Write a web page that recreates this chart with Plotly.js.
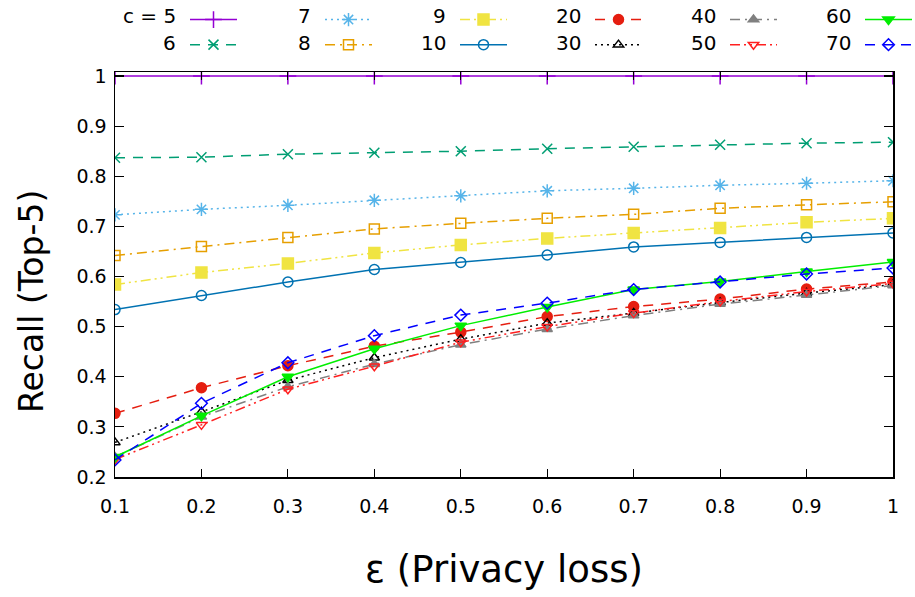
<!DOCTYPE html>
<html>
<head>
<meta charset="utf-8">
<script src="https://cdn.plot.ly/plotly-3.0.1.min.js"></script>
<style>html,body{margin:0;padding:0;background:#fff}#chart{width:915px;height:597px}</style>
</head>
<body>
<div id="chart"></div>
<script>
// ---- data ----
const eps = [0.1, 0.2, 0.3, 0.4, 0.5, 0.6, 0.7, 0.8, 0.9, 1.0];
const cLabels = ['c = 5', '6', '7', '8', '9', '10', '20', '30', '40', '50', '60', '70'];
const c5  = [1.0, 1.0, 1.0, 1.0, 1.0, 1.0, 1.0, 1.0, 1.0, 1.0];
const c6  = [0.837, 0.838, 0.844, 0.847, 0.850, 0.855, 0.859, 0.863, 0.866, 0.868];
const c7  = [0.723, 0.734, 0.742, 0.752, 0.761, 0.771, 0.776, 0.782, 0.786, 0.791];
const c8  = [0.642, 0.660, 0.678, 0.695, 0.706, 0.716, 0.724, 0.736, 0.743, 0.749];
const c9  = [0.584, 0.608, 0.626, 0.647, 0.663, 0.676, 0.687, 0.697, 0.708, 0.716];
const c10 = [0.534, 0.562, 0.589, 0.614, 0.628, 0.643, 0.659, 0.668, 0.678, 0.687];
const c20 = [0.327, 0.378, 0.422, 0.461, 0.489, 0.520, 0.540, 0.555, 0.575, 0.589];
const c30 = [0.269, 0.330, 0.393, 0.438, 0.475, 0.507, 0.527, 0.548, 0.567, 0.584];
const c40 = [0.240, 0.320, 0.380, 0.425, 0.464, 0.495, 0.522, 0.545, 0.563, 0.582];
const c50 = [0.235, 0.304, 0.375, 0.421, 0.469, 0.500, 0.527, 0.550, 0.570, 0.586];
const c60 = [0.240, 0.322, 0.400, 0.456, 0.502, 0.539, 0.574, 0.590, 0.610, 0.629];
const c70 = [0.234, 0.347, 0.428, 0.482, 0.523, 0.547, 0.574, 0.589, 0.605, 0.617];
const xTickVals = [0.1, 0.2, 0.3, 0.4, 0.5, 0.6, 0.7, 0.8, 0.9, 1];
const yTickVals = [0.2, 0.3, 0.4, 0.5, 0.6, 0.7, 0.8, 0.9, 1];

const values = [c5, c6, c7, c8, c9, c10, c20, c30, c40, c50, c60, c70];

// ---- styles ----
const colors = ['#9400d3', '#009e73', '#56b4e9', '#e69f00', '#f0e442', '#0072b2',
                '#e51e10', '#000000', '#808080', '#ff2020', '#00ee00', '#0000ff'];
const symbols = ['cross-thin-open', 'x-thin-open', 'asterisk-open', 'square-open', 'square', 'circle-open',
                 'circle', 'triangle-up-open', 'triangle-up', 'triangle-down-open', 'triangle-down', 'diamond-open'];
const DASH = '10px,8px', DOT = '2px,4px', DASHDOT = '10px,5px,2px,5px', DASHDOTDOT = '10px,4px,2px,4px,2px,4px';
const dashes = ['solid', DASH, DOT, DASHDOT, DASHDOTDOT, 'solid', DASH, DOT, DASHDOT, DASHDOTDOT, 'solid', DASH];
const sizes = [12, 10, 11, 10, 11, 10, 10, 9, 9, 9, 10, 9];

const L = 115, W = 778, T = 72, H = 405;
const colStride = 135, firstSample = 190, rowY = [16, 43];
const legendNames = ['legend', 'legend2', 'legend3', 'legend4', 'legend5', 'legend6'];

const traces = values.map((v, i) => ({
  x: eps, y: v, type: 'scatter', mode: 'lines+markers',
  name: ' ',
  legend: legendNames[Math.floor(i / 2)],
  legendrank: (i % 2) + 1,
  line: {color: colors[i], width: 1.5, dash: dashes[i]},
  marker: {symbol: symbols[i], size: sizes[i], color: colors[i], line: {color: colors[i], width: 1.5}}
}));

// legend label annotations (text to the left of each legend sample)
const annotations = [];
values.forEach((v, i) => {
  const col = Math.floor(i / 2), row = i % 2;
  const px = firstSample + col * colStride - 12;
  annotations.push({
    text: cLabels[i], xref: 'paper', yref: 'paper',
    x: (px - L) / W, y: (T + H - rowY[row]) / H,
    xanchor: 'right', yanchor: 'middle', showarrow: false,
    font: {family: 'DejaVu Sans', size: 20, color: '#000'}
  });
});
// y-axis title
annotations.push({
  text: 'Recall (Top-5)', xref: 'paper', yref: 'paper',
  x: (31 - L) / W, y: (T + H - 302) / H, xanchor: 'center', yanchor: 'middle',
  textangle: -90, showarrow: false,
  font: {family: 'DejaVu Sans', size: 33, color: '#000'}
});

const layout = {
  width: 915, height: 597,
  margin: {l: L, r: 915 - L - W, t: T, b: 597 - T - H, autoexpand: false},
  paper_bgcolor: '#fff', plot_bgcolor: '#fff',
  font: {family: 'DejaVu Sans', size: 19, color: '#000'},
  showlegend: true,
  xaxis: {
    range: [0.1, 1], tickvals: xTickVals, ticks: 'inside', ticklen: 8, tickwidth: 1.2, tickcolor: '#000',
    showline: true, linecolor: '#000', linewidth: 1.5, mirror: 'ticks', showgrid: false, zeroline: false,
    ticklabelstandoff: 12,
    title: {text: 'ε (Privacy loss)', font: {family: 'DejaVu Sans', size: 37}, standoff: 40}
  },
  yaxis: {
    range: [0.2, 1.008], tickvals: yTickVals, ticks: 'inside', ticklen: 9, tickwidth: 1.2, tickcolor: '#000',
    showline: true, linecolor: '#000', linewidth: 1.5, mirror: 'ticks', showgrid: false, zeroline: false,
    ticklabelstandoff: 3
  },
  annotations: annotations
};
legendNames.forEach((ln, c) => {
  layout[ln] = {
    orientation: 'v', x: (firstSample + c * colStride - 5 - L) / W, xanchor: 'left',
    y: (T + H - 2) / H, yanchor: 'top', itemwidth: 47,
    bgcolor: 'rgba(0,0,0,0)', borderwidth: 0, font: {family: 'DejaVu Sans', size: 17}
  };
});

Plotly.newPlot('chart', traces, layout, {displayModeBar: false, staticPlot: true});
</script>
</body>
</html>
